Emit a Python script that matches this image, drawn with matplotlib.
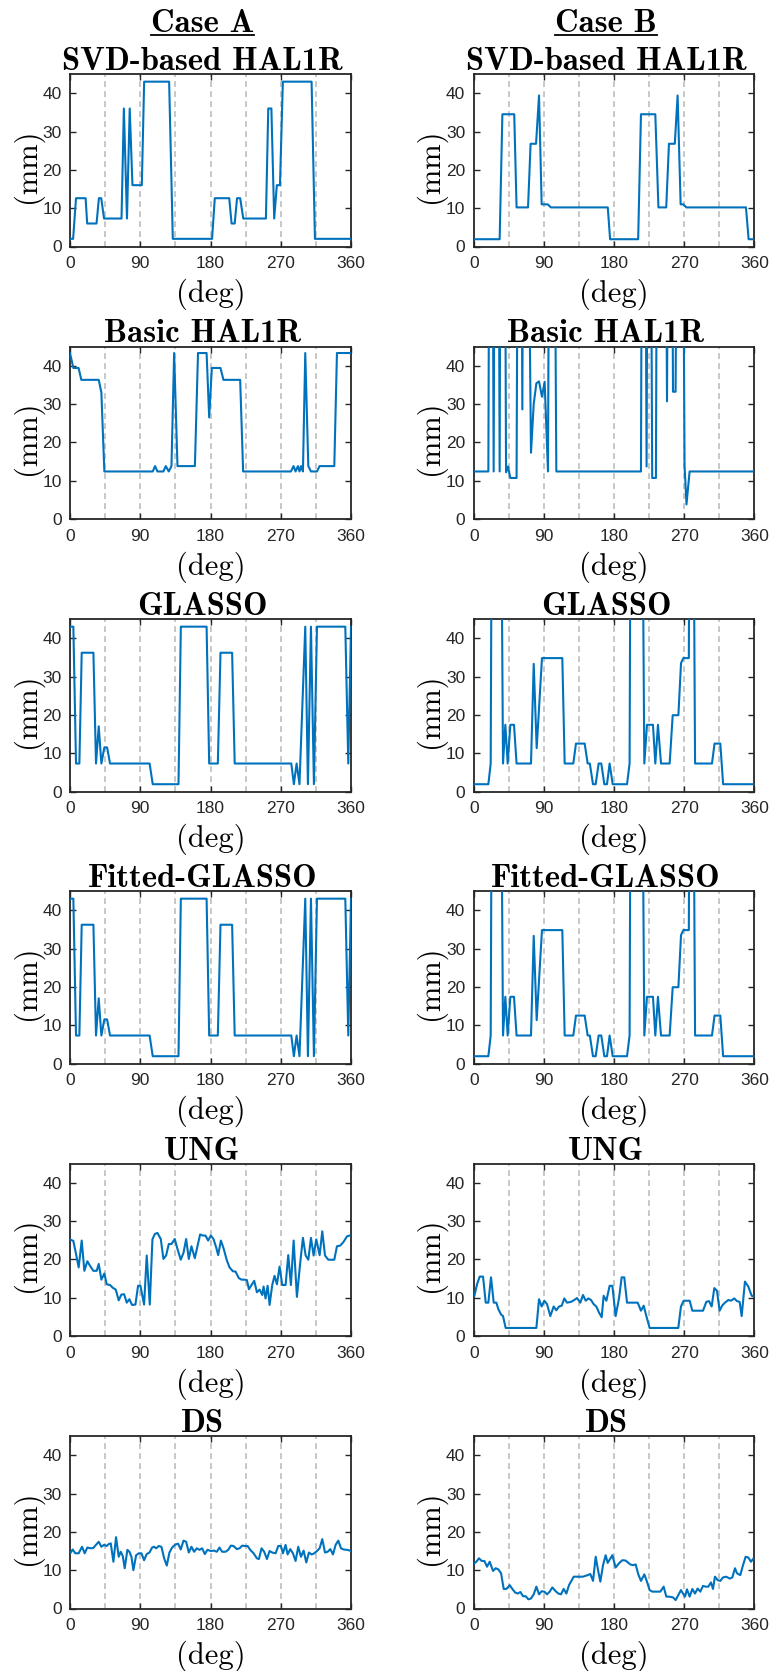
import os
import matplotlib
matplotlib.use("Agg")
import matplotlib.pyplot as plt
from matplotlib.font_manager import FontProperties
from matplotlib.lines import Line2D

# ---------------------------------------------------------------- fonts
FONT_DIR = os.path.join(matplotlib.get_data_path(), "fonts", "ttf")
CM_BOLD = FontProperties(fname=os.path.join(FONT_DIR, "cmb10.ttf"), size=23.5)
CM_REG = FontProperties(fname=os.path.join(FONT_DIR, "cmr10.ttf"), size=22)
plt.rcParams["font.family"] = ["Liberation Sans", "DejaVu Sans"]

HI = 150.0  # readings far above the 45 mm display limit

# ---------------------------------------------------------------- Case A
svd_a_deg = [0, 4, 7.7, 20, 22, 34, 37, 40, 43.6, 66, 69, 73, 76.5, 80, 92, 95, 127,
             131.7, 182, 185.5, 204, 207, 211, 214, 218, 222, 251, 254, 258, 261.6,
             265, 269, 272.7, 309.5, 313.8, 360]
svd_a_mm = [2, 2, 12.6, 12.6, 6, 6, 12.6, 12.6, 7.3, 7.3, 36, 7.3, 36, 16, 16, 43, 43,
            2, 2, 12.6, 12.6, 6, 6, 12.6, 12.6, 7.3, 7.3, 36, 36, 7.3, 16, 16, 43, 43,
            2, 2]

basic_a_deg = [0, 4.3, 11, 14.5, 36.8, 40.2, 44, 106, 109, 112, 119.7, 122.7, 126.5,
               130, 133.4, 137.7, 160, 164, 175, 178.3, 181.7, 192.8, 196.6, 218,
               221.8, 283, 286.4, 289, 292, 294, 296, 298.4, 301.4, 305.3, 308.7,
               316.4, 319.8, 338.6, 342, 360]
basic_a_mm = [43.3, 39.4, 39.4, 36.3, 36.3, 33, 12.4, 12.4, 13.8, 12.4, 12.4, 13.8,
              12.4, 13.8, 43.3, 13.8, 13.8, 43.3, 43.3, 26.5, 39.4, 39.4, 36.3, 36.3,
              12.4, 12.4, 13.8, 12.4, 13.8, 12.4, 13.8, 12.4, 43.3, 13.8, 12.4, 12.4,
              13.8, 13.8, 43.3, 43.3]

glasso_a_deg = [0, 4.3, 7.7, 12, 15, 30, 33.3, 36.8, 40.2, 44, 47.5, 51.3, 102, 106,
                139, 142, 175, 178.3, 189.4, 192.8, 207.7, 211, 283.5, 286.8, 290.3,
                294, 301.4, 304.8, 308.7, 312.5, 316.4, 352.7, 356.5, 360]
glasso_a_mm = [43, 43, 7.3, 7.3, 36.2, 36.2, 7.3, 17, 7.3, 11.5, 11.5, 7.3, 7.3, 1.9,
               1.9, 43, 43, 7.3, 7.3, 36.2, 36.2, 7.3, 7.3, 1.9, 7.3, 1.9, 43, 1.9,
               43, 1.9, 43, 43, 7.3, 43]

fitted_a_deg = list(glasso_a_deg)
fitted_a_mm = list(glasso_a_mm)

ung_a_deg = [0.9, 4.3, 8.1, 11.1, 15.0, 18.4, 22.2, 25.7, 29.9, 34.2, 36.8, 40.2, 44.0,
             47.0, 51.3, 54.7, 58.6, 62.4, 65.8, 69.3, 72.7, 76.1, 79.5, 83.8, 87.2,
             90.2, 94.9, 98.3, 102.2, 105.6, 108.6, 112.0, 116.3, 119.7, 123.1, 126.6,
             130.0, 134.2, 137.7, 141.9, 145.4, 148.8, 152.2, 155.6, 159.9, 162.5,
             166.7, 170.2, 173.6, 177.0, 180.4, 183.8, 187.3, 189.8, 193.3, 196.7,
             201.0, 204.4, 208.6, 212.1, 216.3, 219.8, 223.2, 226.6, 229.2, 232.6,
             236.0, 239.5, 242.9, 246.3, 248.0, 250.5, 253.2, 255.7, 259.1, 262.0,
             265.1, 268.5, 271.9, 276.2, 279.6, 283.0, 286.5, 290.7, 295.0, 298.4,
             301.9, 305.3, 308.7, 312.1, 315.5, 319.8, 323.2, 326.7, 330.9, 335.2,
             338.6, 342.0, 346.3, 350.6, 354.9, 358.3]
ung_a_mm = [25.1, 24.8, 21, 17.9, 24.9, 17, 19.5, 18.3, 17, 17, 18.8, 14.7, 16.3, 13.5,
            13.3, 12.6, 12.1, 9.3, 10.8, 10.9, 8.7, 9.6, 8.1, 8.2, 13.1, 13.1, 8.2, 21,
            8.2, 25.2, 26.6, 26.9, 25.3, 20.1, 21, 24, 24, 25.3, 22.7, 19.9, 21.7, 25.3,
            20.1, 23.4, 20.3, 22.7, 26.5, 26.2, 26.2, 24.9, 26.2, 25.3, 23.1, 21.1, 24.9,
            22.9, 19.7, 17.9, 16.9, 16.8, 15.1, 14.7, 14.7, 14.6, 12.2, 13.3, 14.4, 11.4,
            12.1, 10.7, 12.9, 9.8, 13.1, 8.1, 13.3, 15.7, 13.5, 18.1, 13.3, 13.3, 21.1,
            13.3, 24.9, 10.2, 19.2, 25.6, 21, 19.9, 25.6, 21, 25.2, 21.1, 27.3, 21, 19.9,
            19.9, 19.9, 23.4, 23.6, 24.6, 26, 26.2]

ds_a_deg = [0.9, 3.4, 6.8, 11.1, 15.4, 18.8, 22.2, 26.5, 29.9, 33.3, 36.8, 40.2, 43.6,
            47.0, 49.6, 52.2, 55.6, 59.0, 62.4, 65.0, 67.6, 70.1, 73.5, 76.1, 78.7,
            81.2, 84.7, 88.1, 91.5, 94.9, 98.3, 101.8, 105.2, 107.7, 110.3, 113.7,
            117.1, 120.6, 124.0, 127.4, 130.8, 135.1, 138.5, 141.9, 145.4, 148.8,
            152.2, 155.6, 159.0, 162.5, 165.9, 169.3, 172.7, 176.1, 180.4, 184.7,
            188.1, 191.5, 195.0, 199.2, 202.7, 206.1, 209.5, 213.8, 217.2, 220.6,
            224.0, 227.5, 230.9, 235.2, 239.4, 242.0, 245.4, 248.8, 252.3, 255.7,
            259.1, 263.4, 266.8, 270.2, 272.8, 276.2, 278.8, 282.2, 285.6, 289.0,
            292.4, 295.9, 299.3, 302.7, 306.1, 309.5, 313.0, 316.4, 319.8, 323.2,
            326.7, 330.1, 333.5, 336.9, 340.3, 343.7, 347.2, 350.6, 354.9, 359.1]
ds_a_mm = [14.6, 15.4, 14.4, 14.4, 16.1, 14.4, 15.9, 15.7, 15.8, 16.6, 17.4, 16.1, 16.6,
           16.3, 16.8, 17, 12.2, 18.6, 13.5, 14.8, 13.7, 10.5, 15.3, 14.8, 13.5, 10,
           13.9, 14.4, 14.4, 12.6, 14.2, 14.6, 15.9, 16.1, 15.7, 16.3, 16.1, 13.1, 11.2,
           14.6, 15.9, 16.7, 16.9, 15.4, 17.7, 17.4, 14.6, 16.1, 14.8, 15.7, 15.3, 15.7,
           14.2, 15.3, 15, 15.1, 14.8, 15.9, 14.8, 14.8, 15.3, 16.4, 16.3, 15.5, 15.7,
           16.4, 16.3, 16.3, 15.3, 14.4, 13.1, 12.9, 15.7, 14.8, 12.9, 15, 14.6, 14.4,
           16.3, 16.3, 14.4, 16.6, 14.1, 15.5, 14.4, 12.4, 16.1, 13.5, 15.1, 12, 14.6,
           14.1, 14.4, 15, 15.7, 18.1, 14.6, 14.8, 15.5, 14.1, 16.6, 17.7, 15.7, 15.4,
           15.3, 15.1]

# ---------------------------------------------------------------- Case B
svd_b_deg = [0, 33.3, 36.8, 52, 55, 69.7, 73, 80, 83.8, 87.2, 95, 99, 172, 175, 211,
             214.6, 233, 237, 247, 250.5, 258, 261.6, 265.5, 269, 272.8, 349.3, 352.7,
             360]
svd_b_mm = [1.9, 1.9, 34.5, 34.5, 10.2, 10.2, 26.8, 26.8, 39.4, 11, 11, 10.2, 10.2,
            1.9, 1.9, 34.5, 34.5, 10.2, 10.2, 26.8, 26.8, 39.4, 11, 11, 10.2, 10.2,
            1.9, 1.9]

basic_b_deg = [0, 18.8, 21, 23, 25.6, 27.8, 31, 33.3, 35, 39, 41.5, 44, 47, 55, 57.7,
               60, 62.4, 64.5, 67, 73.5, 77, 80.4, 83.8, 87.6, 91, 95.3, 98, 102, 106,
               214.6, 216.7, 219, 221.8, 224, 226, 229, 233.8, 236, 245, 248, 251, 253,
               255.7, 259, 262.6, 267, 270.5, 273, 277, 360]
basic_b_mm = [12.4, 12.4, HI, HI, 12.4, HI, HI, 12.4, HI, HI, 12.2, 13.7, 10.7, 10.7,
              HI, HI, 28.6, HI, HI, 17.3, 30, 35.4, 35.9, 31.9, 35.8, 12.4, HI, HI,
              12.4, 12.4, HI, HI, 13.7, HI, HI, 10.7, 10.7, HI, HI, 30.7, HI, HI, 33.2,
              33.2, HI, HI, 14, 3.8, 12.4, 12.4]

glasso_b_deg = [0, 18.8, 21.8, 24.5, 33, 37.6, 40.6, 43.6, 47, 51.7, 55, 73.5, 77, 80.8,
                87.6, 113.7, 116.7, 127.8, 131.2, 142.4, 146.2, 149, 153, 156.5, 160.3,
                163.7, 167.6, 171, 174.4, 178.3, 196.7, 200, 202.5, 214, 218.9, 222.3,
                230, 233, 236.4, 240.3, 251.4, 255.3, 262.6, 266, 269, 276, 278, 280,
                284, 305.7, 309, 316.4, 320, 360]
glasso_b_mm = [1.9, 1.9, 7.3, HI, HI, 7.3, 17.4, 7.3, 17.4, 17.4, 7.3, 7.3, 33.3, 11.3,
               34.8, 34.8, 7.3, 7.3, 12.5, 12.5, 7.3, 7.3, 1.9, 1.9, 7.3, 7.3, 1.9, 1.9,
               7.3, 1.9, 1.9, 7.3, HI, HI, 7.3, 17.4, 17.4, 7.3, 17.4, 7.3, 7.3, 19.9,
               19.9, 33.5, 34.8, 34.8, HI, HI, 7.3, 7.3, 12.5, 12.5, 1.9, 1.9]

fitted_b_deg = list(glasso_b_deg)
fitted_b_mm = list(glasso_b_mm)

ung_b_deg = [0.9, 4.3, 7.7, 12.0, 15.4, 18.8, 22.2, 25.7, 29.1, 31.6, 35.1, 37.6, 41.0,
             43.6, 80.4, 83.8, 87.2, 90.6, 94.1, 98.3, 102.6, 106.0, 109.5, 112.9,
             116.3, 119.7, 124.8, 129.1, 132.5, 136.8, 140.2, 143.7, 147.1, 150.5,
             153.9, 157.3, 160.8, 164.2, 166.7, 170.2, 174.4, 177.9, 182.1, 186.4,
             189.8, 193.2, 196.7, 210.4, 214.6, 218.1, 221.5, 225.7, 262.5, 265.9,
             269.4, 274.5, 277.1, 280.5, 284.7, 294.2, 298.4, 301.9, 305.3, 308.7,
             312.1, 315.5, 319.0, 322.4, 326.7, 330.1, 334.3, 337.8, 341.2, 343.8,
             348.0, 352.3, 356.6, 359.1]
ung_b_mm = [10.5, 13.5, 15.5, 15.5, 8.7, 8.7, 15.3, 8.7, 8.7, 7, 5.6, 5.2, 2.1, 2.1, 2.1,
            9.6, 7.7, 9.2, 8.3, 5.2, 7.7, 6.7, 7.7, 7.9, 9.8, 8.7, 8.9, 9.4, 9.9, 8.7,
            10.7, 9.2, 9.8, 9.4, 8.3, 7.7, 6.1, 4.9, 10.5, 9.2, 13.1, 13.1, 5.2, 9.8,
            15.3, 15.3, 8.7, 8.7, 6.6, 7.9, 5.2, 2.1, 2.1, 7.7, 9.2, 9.2, 9.2, 6.6, 6.6,
            6.6, 8.9, 9.1, 7.7, 12.5, 11.8, 6.6, 8, 8.7, 9.4, 9.2, 9.8, 9.1, 8.9, 5.2,
            14.2, 12.9, 10.5, 10.3]

ds_b_deg = [0.9, 3.4, 6.8, 10.3, 13.7, 17.1, 20.5, 24.8, 28.2, 31.6, 35.1, 38.5, 41.9,
            46.2, 49.6, 53.0, 56.4, 59.9, 63.3, 66.7, 70.1, 73.5, 77.0, 80.4, 83.8,
            87.2, 90.6, 94.1, 97.5, 100.9, 105.2, 108.6, 112.0, 115.4, 118.9, 122.3,
            128.3, 131.7, 136.0, 140.2, 146.2, 149.6, 153.1, 156.5, 159.9, 162.5,
            165.9, 169.3, 171.9, 177.9, 182.1, 186.4, 190.7, 195.0, 198.4, 200.9,
            204.4, 207.8, 211.2, 214.6, 218.9, 222.3, 225.7, 229.2, 232.6, 236.0,
            239.4, 243.7, 247.1, 250.5, 255.7, 259.1, 262.5, 265.9, 268.5, 271.1,
            273.6, 277.1, 280.5, 283.9, 287.3, 290.7, 294.2, 297.6, 301.0, 304.4,
            307.0, 309.5, 313.0, 316.4, 319.8, 324.1, 328.4, 331.8, 335.2, 337.8,
            342.0, 345.5, 348.9, 352.3, 355.7, 359.1]
ds_b_mm = [11.8, 12.2, 13.1, 12.4, 12.4, 10.9, 12.2, 9.8, 10.5, 10.2, 9.2, 5.1, 5.1, 6.1,
           5.1, 4.2, 3.9, 4.3, 3.2, 3.2, 2.4, 2.6, 3.7, 5.7, 3.7, 4.5, 4.4, 3.7, 4.4, 5.5,
           4.5, 3.9, 3.7, 5.1, 3.9, 6.1, 8.3, 8.3, 8.3, 8.3, 8.7, 9, 7.2, 13.5, 9.6, 7,
           11.3, 13.9, 11.9, 13.9, 10.7, 11.8, 12.6, 12.5, 11.9, 11.5, 11.3, 11.5, 8.9,
           7.2, 8.9, 7, 4.8, 4.4, 4.4, 4.4, 4.4, 5.7, 3.1, 3.1, 2.9, 2.2, 3.5, 4.8, 3.9,
           3.1, 5, 3.1, 5.1, 3.9, 5.2, 4.4, 5.9, 5.7, 5.7, 6.8, 5.1, 8.3, 7.4, 7.2, 8.1,
           8.3, 7.8, 8.1, 10.5, 9.2, 8.7, 11.3, 13.5, 13.3, 12.2, 13.1]

# ---------------------------------------------------------------- layout
method_names = ["SVD-based HAL1R", "Basic HAL1R", "GLASSO", "Fitted-GLASSO", "UNG", "DS"]
case_names = ["Case A", "Case B"]
series = [
    [(svd_a_deg, svd_a_mm), (svd_b_deg, svd_b_mm)],
    [(basic_a_deg, basic_a_mm), (basic_b_deg, basic_b_mm)],
    [(glasso_a_deg, glasso_a_mm), (glasso_b_deg, glasso_b_mm)],
    [(fitted_a_deg, fitted_a_mm), (fitted_b_deg, fitted_b_mm)],
    [(ung_a_deg, ung_a_mm), (ung_b_deg, ung_b_mm)],
    [(ds_a_deg, ds_a_mm), (ds_b_deg, ds_b_mm)],
]
x_ticks = [0, 90, 180, 270, 360]
y_ticks = [0, 10, 20, 30, 40]
guide_angles = [45, 90, 135, 180, 225, 270, 315]

W, H = 783, 1671
fig = plt.figure(figsize=(W / 100, H / 100), dpi=100)

col_left = [70.0, 473.7]
col_width = [281.0, 280.6]
row_top = [74.0, 346.5, 619.0, 891.0, 1163.5, 1436.0]
ax_h = 172.5
case_rise = 42.0  # px from the top of the first-row axes to the case heading baseline

LINE = "#0072BD"
DARK = "#262626"
title_x = 0.4715

case_texts = []
for r, name in enumerate(method_names):
    for c in range(2):
        left = col_left[c] / W
        bottom = 1 - (row_top[r] + ax_h) / H
        ax = fig.add_axes([left, bottom, col_width[c] / W, ax_h / H])
        deg, mm = series[r][c]
        for a in guide_angles:
            ax.axvline(a, color="#bdbdbd", lw=1.2, ls=(0, (3.5, 2.5)), zorder=1)
        ax.plot(deg, mm, color=LINE, lw=1.5, zorder=3)
        ax.set_xlim(0, 360)
        ax.set_ylim(0, 45)
        ax.set_xticks(x_ticks)
        ax.set_yticks(y_ticks)
        ax.tick_params(direction="in", length=4, width=1.0, top=True, right=True,
                       labelsize=12.5, colors=DARK, pad=6)
        ax.tick_params(axis="x", pad=7)
        for sp in ax.spines.values():
            sp.set_linewidth(1.3)
            sp.set_color(DARK)
        ax.text(title_x, 1 + 4 / ax_h, name, transform=ax.transAxes, ha="center",
                va="baseline", fontproperties=CM_BOLD, color="black")
        ax.text(-43 / col_width[c], 0.471, "(mm)", transform=ax.transAxes,
                rotation=90, ha="center", va="center", fontproperties=CM_REG)
        ax.text(0.5, -48 / ax_h, "(deg)", transform=ax.transAxes, ha="center",
                va="center", fontproperties=CM_REG)
        if r == 0:
            t = ax.text(title_x, 1 + case_rise / ax_h, case_names[c],
                        transform=ax.transAxes, ha="center", va="baseline",
                        fontproperties=CM_BOLD)
            case_texts.append(t)

# underline the case headings just below their baseline
fig.canvas.draw()
renderer = fig.canvas.get_renderer()
baseline_px = H - row_top[0] + case_rise
for t in case_texts:
    bb = t.get_window_extent(renderer)
    y = (baseline_px - 3.0) / H
    fig.add_artist(Line2D([bb.x0 / W, bb.x1 / W], [y, y],
                          transform=fig.transFigure, color="black", lw=1.3))

fig.savefig("out.png", dpi=100)
